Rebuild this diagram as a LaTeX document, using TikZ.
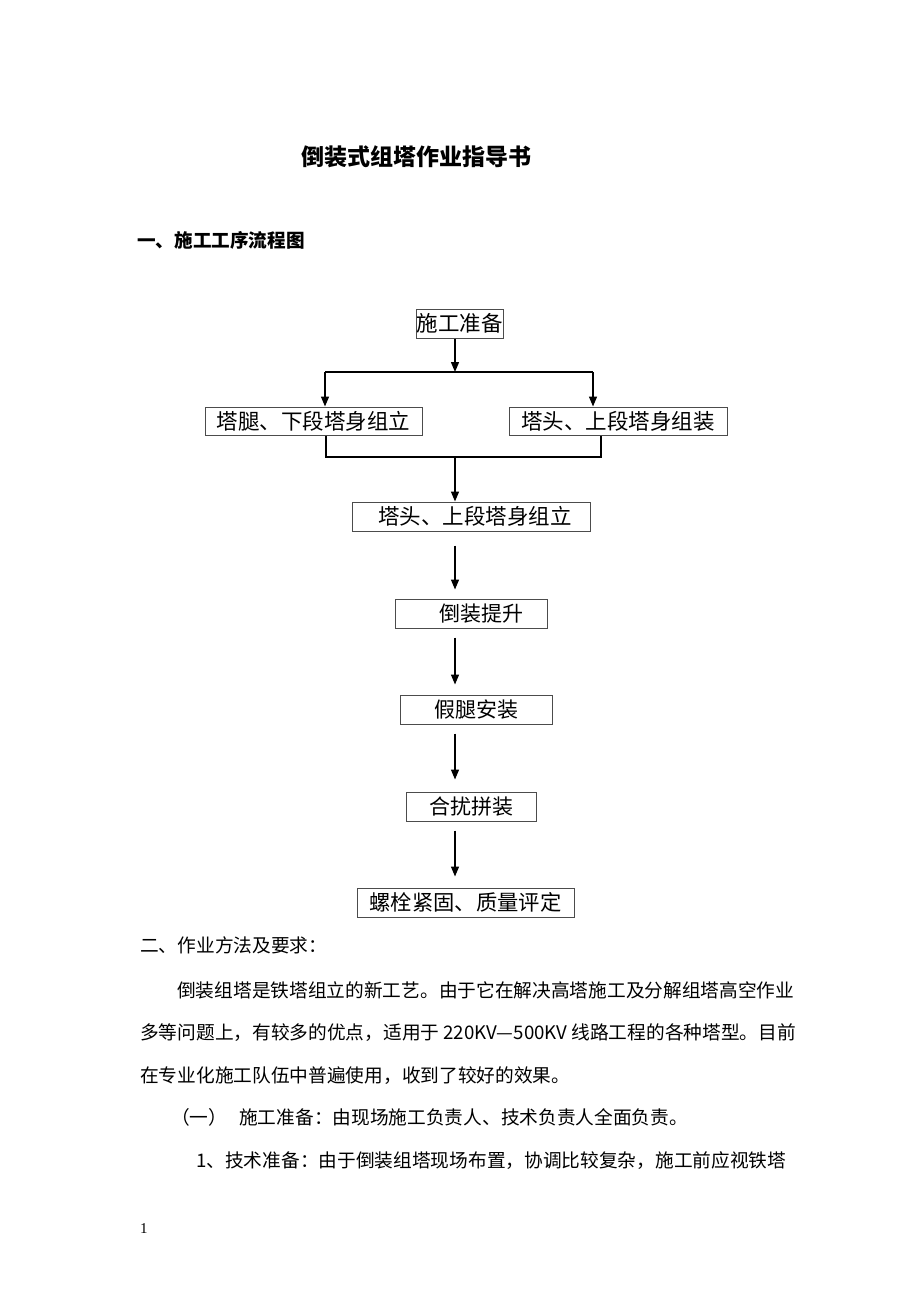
\documentclass[tikz,border=0pt]{standalone}
\usepackage{fontspec}
\setmainfont{Noto Sans CJK SC}
\newfontfamily\numfont{Liberation Serif}
\usetikzlibrary{arrows.meta,calc}
\newcommand{\fs}[1]{\fontsize{#1}{#1}\selectfont}
\tikzset{
  box/.style={draw=black!70, line width=1pt, inner sep=0pt, rectangle},
  conn/.style={line width=1.4pt, black},
  arr/.style={conn, -{Triangle[length=10pt,width=8pt]}},
  bodyline/.style={anchor=base west, inner sep=0pt, font=\fs{18.7}},
}
\begin{document}
\begin{tikzpicture}[x=1pt,y=-1pt]
\useasboundingbox[fill=white] (0,0) rectangle (920,1301);

% title and heading
\node[anchor=base west, inner sep=0pt, font=\fs{23}\bfseries] (title) at (301,165) {倒装式组塔作业指导书};
\node[anchor=base west, inner sep=0pt, font=\fs{18.6}\bfseries] (head1) at (137,247) {一、施工工序流程图};

% flowchart boxes
\node[box, minimum width=87pt, minimum height=29pt, font=\fs{21.5}] (prep) at (459.5,323.5) {施工准备};
\node[box, minimum width=217pt, minimum height=28pt, font=\fs{21.5}] (legA) at (313.5,421) {塔腿、下段塔身组立};
\node[box, minimum width=218pt, minimum height=28pt, font=\fs{21.5}] (headA) at (618,421) {塔头、上段塔身组装};
\node[box, minimum width=238pt, minimum height=29pt, font=\fs{21.5}] (headB) at (471,516.5) {\hspace{8pt}塔头、上段塔身组立};
\node[box, minimum width=152pt, minimum height=29pt, font=\fs{21}] (lift) at (471,613.5) {\hspace{20pt}倒装提升};
\node[box, minimum width=152pt, minimum height=29pt, font=\fs{21}] (fake) at (476,709.5) {假腿安装};
\node[box, minimum width=130pt, minimum height=29pt, font=\fs{21}] (merge) at (471,806.5) {合扰拼装};
\node[box, minimum width=217pt, minimum height=29pt, font=\fs{21.3}] (bolt) at (465.5,902.5) {螺栓紧固、质量评定};

% connectors
\coordinate (f1) at (455,372);
\coordinate (fl) at (325,372);
\coordinate (fr) at (593,372);
\draw[arr] (prep.south -| f1) -- (f1);
\draw[conn] (fl) -- (fr);
\draw[arr] (fl) -- (fl |- legA.north);
\draw[arr] (fr) -- (fr |- headA.north);

\coordinate (j1) at (326,457);
\coordinate (j2) at (601,457);
\coordinate (jm) at (455,457);
\draw[conn] (legA.south -| j1) -- (j1) -- (j2) -- (headA.south -| j2);
\draw[arr] (jm) -- (jm |- headB.north);

\coordinate (ax) at (455,0);
\draw[arr, shorten <=14pt, shorten >=9pt] (headB.south -| ax) -- (lift.north -| ax);
\draw[arr, shorten <=9pt, shorten >=10pt] (lift.south -| ax) -- (fake.north -| ax);
\draw[arr, shorten <=9pt, shorten >=12pt] (fake.south -| ax) -- (merge.north -| ax);
\draw[arr, shorten <=9pt, shorten >=11pt] (merge.south -| ax) -- (bolt.north -| ax);

% body text
\node[bodyline] (t1) at (140,952) {二、作业方法及要求：};
\node[bodyline] (t2) at (177,997) {倒装组塔是铁塔组立的新工艺。由于它在解决高塔施工及分解组塔高空作业};
\node[bodyline] (t3) at (140,1039) {多等问题上，有较多的优点，适用于 220KV—500KV 线路工程的各种塔型。目前};
\node[bodyline] (t4) at (140,1082) {在专业化施工队伍中普遍使用，收到了较好的效果。};
\node[bodyline] (t5) at (171,1124) {（一）\hspace{12pt}施工准备：由现场施工负责人、技术负责人全面负责。};
\node[bodyline] (t6) at (196,1167) {1、技术准备：由于倒装组塔现场布置，协调比较复杂，施工前应视铁塔};

% page number
\node[anchor=base west, inner sep=0pt, font=\numfont\fs{15}] (pg) at (140,1233) {1};
\end{tikzpicture}
\end{document}
